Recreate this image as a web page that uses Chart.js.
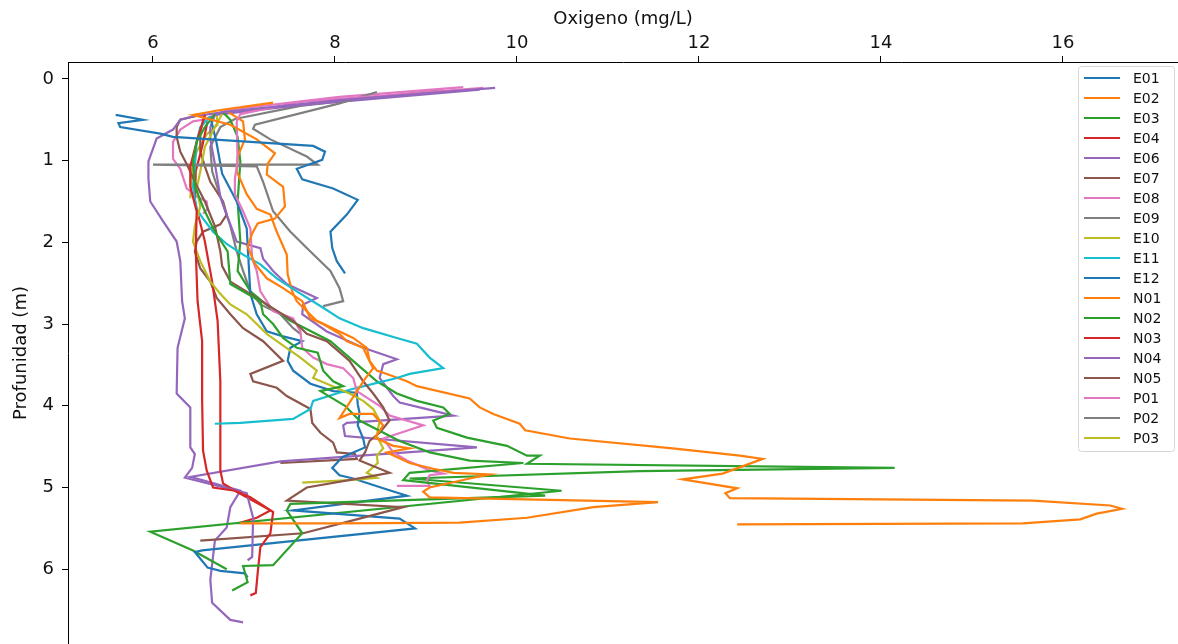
<!DOCTYPE html>
<html>
<head>
<meta charset="utf-8">
<script src="https://cdn.jsdelivr.net/npm/chart.js@4.4.1/dist/chart.umd.min.js"></script>
<style>
  html, body { margin: 0; padding: 0; background: #fff; overflow: hidden; }
  #perfil { display: block; }
</style>
</head>
<body>
<canvas id="perfil" width="1178" height="644"></canvas>
<script>
// estaciones y colores (tab10, en orden)
const stations = ['E01', 'E02', 'E03', 'E04', 'E06', 'E07', 'E08', 'E09', 'E10', 'E11', 'E12',
                  'N01', 'N02', 'N03', 'N04', 'N05', 'P01', 'P02', 'P03'];
const tab10 = ['#1f77b4', '#ff7f0e', '#2ca02c', '#d62728', '#9467bd',
               '#8c564b', '#e377c2', '#7f7f7f', '#bcbd22', '#17becf'];

const xTicks = [6, 8, 10, 12, 14, 16];
const yTicks = [0, 1, 2, 3, 4, 5, 6];

// perfiles: [oxigeno (mg/L), profundidad (m)]
const E01 = [[5.59,0.44],[5.89,0.50],[5.62,0.54],[5.64,0.59],[6.08,0.67],[6.22,0.71],[7.07,0.77],
  [7.76,0.82],[7.89,0.89],[7.86,0.99],[7.58,1.10],[7.64,1.23],[7.98,1.34],[8.25,1.48],[8.13,1.66],
  [7.95,1.87],[7.97,2.07],[8.02,2.23],[8.11,2.38]];
const E02 = [[7.32,0.29],[6.74,0.38],[6.44,0.44],[6.85,0.56],[7.14,0.74],[7.34,0.91],[7.26,1.04],
  [7.25,1.17],[7.43,1.32],[7.45,1.56],[7.34,1.71],[7.15,1.77],[7.09,1.89],[7.04,2.05],[7.12,2.26],
  [7.25,2.44],[7.43,2.56],[7.64,2.72],[7.73,2.93],[7.87,3.00],[8.05,3.12],[8.13,3.21],[8.31,3.29],
  [8.36,3.41],[8.42,3.54],[8.33,3.67],[8.19,3.91],[8.05,4.15],[8.16,4.10],[8.42,4.10],[8.53,4.24],
  [8.44,4.39],[8.64,4.49],[8.82,4.52],[8.57,4.57],[8.82,4.70],[9.08,4.77],[9.30,4.82],[9.70,4.84],
  [9.52,4.88],[9.04,5.00],[8.97,5.05],[9.04,5.12],[11.55,5.18],[10.84,5.24],[10.11,5.37],
  [9.37,5.43],[8.05,5.44],[6.96,5.44]];
const E03 = [[6.68,0.43],[6.57,0.59],[6.48,0.77],[6.44,1.01],[6.46,1.32],[6.57,1.62],[6.68,1.87],
  [6.82,2.11],[6.85,2.51],[7.18,2.72],[7.21,2.88],[7.32,3.00],[7.43,3.17],[7.58,3.29],[7.81,3.35],
  [7.87,3.57],[7.98,3.70],[8.09,3.76],[7.84,3.82],[8.11,4.00],[8.27,4.18],[8.71,4.43],[9.04,4.57],
  [9.48,4.67],[10.07,4.70],[8.82,4.82],[8.75,4.91],[10.31,5.10],[7.51,5.20],[7.47,5.28],
  [7.64,5.56],[7.32,5.95],[6.99,5.96],[7.04,6.16],[6.87,6.26]];
const E04 = [[6.57,0.44],[6.48,0.77],[6.41,1.07],[6.41,1.32],[6.48,1.62],[6.47,2.11],[6.49,2.72],
  [6.54,3.21],[6.54,3.94],[6.55,4.55],[6.59,4.79],[6.66,5.00],[6.90,5.04],[7.07,5.12],[7.32,5.30],
  [7.29,5.56],[7.18,5.73],[7.15,6.05],[7.13,6.29],[7.07,6.32]];
const E06 = [[9.76,0.11],[8.05,0.26],[6.81,0.40],[6.44,0.46],[6.30,0.50],[6.22,0.62],[6.04,0.73],
  [5.95,1.01],[5.95,1.22],[5.97,1.50],[6.11,1.74],[6.26,1.99],[6.30,2.23],[6.32,2.72],[6.35,2.93],
  [6.27,3.29],[6.26,3.85],[6.41,4.02],[6.41,4.51],[6.46,4.59],[6.43,4.76],[6.35,4.88],[7.03,5.07],
  [7.10,5.37],[7.09,5.85],[7.04,5.89]];
const E07 = [[6.52,0.44],[6.30,0.50],[6.26,0.59],[6.26,0.71],[6.30,0.89],[6.37,1.04],[6.46,1.26],
  [6.57,1.50],[6.68,1.80],[6.74,2.11],[6.76,2.29],[6.85,2.48],[7.07,2.63],[7.25,2.76],[7.54,2.96],
  [7.69,3.12],[7.91,3.21],[8.16,3.45],[8.31,3.70],[8.42,3.85],[8.53,4.02],[8.60,4.18],[8.49,4.33],
  [8.38,4.43],[8.33,4.57],[8.27,4.67],[8.60,4.82],[8.31,4.88],[7.69,5.00],[7.47,5.16],[8.75,5.24],
  [8.27,5.38],[7.65,5.56],[6.52,5.65]];
const E08 = [[9.63,0.11],[7.62,0.28],[6.96,0.43],[6.92,0.52],[6.93,1.01],[6.90,1.22],[6.90,1.41],
  [6.99,1.62],[7.07,1.83],[7.09,2.20],[7.14,2.35],[7.18,2.60],[7.32,2.84],[7.54,2.93],[7.62,3.09],
  [7.64,3.29],[7.76,3.41],[7.91,3.49],[8.09,3.54],[8.20,3.66],[8.24,3.82],[8.35,3.90],[8.49,4.00],
  [8.60,4.12],[8.97,4.24],[8.53,4.40],[8.64,4.57],[8.79,4.67],[9.04,4.79],[9.19,4.83],[9.04,4.85],
  [9.01,4.91],[9.04,4.98],[8.68,4.98]];
const E09 = [[8.46,0.16],[8.05,0.30],[7.12,0.56],[7.10,0.61],[7.29,0.74],[7.69,0.95],[7.81,1.05],
  [6.00,1.05],[7.14,1.07],[7.21,1.26],[7.32,1.62],[7.51,1.87],[7.69,2.07],[7.95,2.35],[8.05,2.56],
  [8.09,2.72],[7.87,2.78]];
const E10 = [[6.76,0.43],[6.68,0.59],[6.57,0.83],[6.52,1.13],[6.48,1.34],[6.52,1.56],[6.46,1.80],
  [6.44,1.99],[6.52,2.23],[6.63,2.48],[6.74,2.63],[6.85,2.76],[7.03,2.88],[7.14,3.00],[7.25,3.12],
  [7.40,3.24],[7.62,3.41],[7.80,3.57],[7.76,3.66],[7.91,3.73],[8.16,3.85],[8.31,3.94],[8.42,4.04],
  [8.49,4.18],[8.46,4.37],[8.53,4.52],[8.46,4.61],[8.47,4.70],[8.35,4.82],[8.46,4.88],[8.16,4.91],
  [7.64,4.94]];
const E11 = [[6.63,0.46],[6.52,0.59],[6.48,0.77],[6.46,1.07],[6.44,1.32],[6.48,1.59],[6.55,1.71],
  [6.66,1.87],[6.81,2.02],[6.99,2.15],[7.18,2.27],[7.36,2.44],[7.58,2.60],[7.87,2.80],[8.05,2.93],
  [8.31,3.05],[8.68,3.17],[8.90,3.24],[9.04,3.41],[9.19,3.54],[8.82,3.61],[8.68,3.66],[8.24,3.78],
  [8.02,3.85],[7.76,3.94],[7.73,4.04],[7.54,4.16],[6.96,4.21],[6.68,4.22]];
const E12 = [[6.63,0.46],[6.70,0.79],[6.76,1.16],[6.92,1.50],[7.03,1.83],[7.07,2.63],[7.14,2.88],
  [7.25,3.09],[7.43,3.15],[7.64,3.21],[7.51,3.29],[7.48,3.45],[7.54,3.57],[7.73,3.73],[7.98,3.82],
  [8.24,3.84],[8.25,3.98],[8.27,4.09],[8.25,4.24],[8.31,4.40],[8.33,4.51],[8.08,4.63],[7.97,4.76],
  [8.05,4.85],[8.20,4.89],[8.53,5.01],[8.79,5.10],[7.54,5.28],[8.71,5.38],[8.88,5.50],[6.54,5.77],
  [6.46,5.79],[6.60,5.98],[6.74,6.02],[7.01,6.05],[7.04,6.10]];
const N01 = [[6.82,0.40],[6.99,0.52],[7.01,0.74],[6.93,0.95],[6.92,1.13],[7.03,1.41],[7.14,1.59],
  [7.29,1.66],[7.36,1.87],[7.47,2.15],[7.48,2.39],[7.53,2.60],[7.58,2.72],[7.65,2.80],[7.80,2.96],
  [8.05,3.09],[8.20,3.17],[8.35,3.29],[8.38,3.45],[8.46,3.57],[8.57,3.61],[8.79,3.70],[8.90,3.76],
  [9.48,3.91],[9.59,4.02],[9.74,4.10],[10.03,4.22],[10.09,4.30],[10.58,4.40],[11.71,4.52],
  [12.45,4.61],[12.70,4.65],[12.26,4.83],[11.82,4.90],[12.42,5.01],[12.29,5.07],[12.34,5.13],
  [15.67,5.16],[16.52,5.22],[16.65,5.26],[16.37,5.32],[16.19,5.39],[15.56,5.44],[12.42,5.45]];
const N02 = [[6.76,0.40],[6.85,0.50],[6.93,0.71],[6.96,1.01],[6.93,1.50],[6.96,1.99],[6.93,2.35],
  [7.07,2.60],[7.29,2.80],[7.51,2.96],[7.95,3.21],[8.24,3.49],[8.46,3.70],[8.68,3.85],[8.90,3.94],
  [9.19,4.02],[9.26,4.10],[9.08,4.18],[9.12,4.27],[9.45,4.39],[9.89,4.49],[10.11,4.61],[10.25,4.61],
  [10.11,4.71],[14.15,4.76],[11.35,4.80],[8.82,4.89],[10.49,5.04],[5.97,5.54],[6.44,5.77],[6.81,6.00]];
const N03 = [[6.60,0.52],[6.54,0.83],[6.47,1.13],[6.46,1.50],[6.57,1.99],[6.65,2.48],[6.71,2.96],
  [6.74,3.70],[6.74,4.79],[6.77,4.95],[6.90,5.04],[7.29,5.28],[7.14,5.37],[6.93,5.44]];
const N04 = [[9.59,0.13],[7.62,0.32],[6.68,0.44],[6.63,0.59],[6.63,0.74],[6.68,1.04],[6.74,1.44],
  [6.81,1.66],[6.92,1.99],[7.18,2.07],[7.21,2.20],[7.32,2.35],[7.47,2.51],[7.80,2.68],[7.65,2.76],
  [7.64,2.88],[7.91,3.09],[8.31,3.29],[8.68,3.43],[8.53,3.49],[8.49,3.66],[8.64,3.88],[8.71,3.96],
  [9.01,4.04],[9.30,4.12],[8.13,4.21],[8.09,4.24],[8.11,4.37],[9.56,4.51],[7.40,4.68],[6.41,4.87],
  [6.96,5.04],[6.85,5.24],[6.81,5.49],[6.68,5.65],[6.63,6.13],[6.65,6.41],[6.85,6.62],[6.99,6.65]];
const N05 = [[6.57,0.44],[6.52,0.65],[6.52,0.89],[6.57,1.07],[6.63,1.26],[6.77,1.50],[6.81,1.66],
  [6.74,1.78],[6.55,1.87],[6.48,1.99],[6.46,2.11],[6.52,2.32],[6.63,2.48],[6.70,2.68],[6.85,2.88],
  [6.99,3.05],[7.21,3.21],[7.43,3.45],[7.07,3.61],[7.10,3.70],[7.36,3.78],[7.47,3.88],[7.73,4.04],
  [7.75,4.21],[7.84,4.33],[7.98,4.45],[8.02,4.57],[8.22,4.59],[8.24,4.65],[7.40,4.70]];
const P01 = [[9.41,0.10],[8.05,0.22],[6.81,0.38],[6.55,0.50],[6.44,0.52],[6.30,0.62],[6.22,0.77],
  [6.22,0.98],[6.30,1.10],[6.37,1.34],[6.48,1.44],[6.59,1.50],[6.60,1.59],[6.55,1.65]];
const P02 = [[9.19,0.13],[7.62,0.33],[6.90,0.49],[6.74,0.59],[6.63,0.83],[6.65,1.13],[6.74,1.44],
  [6.85,1.80],[6.92,2.11],[6.99,2.35],[7.07,2.60],[7.18,2.76],[7.40,2.88],[7.54,3.05],[7.62,3.12]];
const P03 = [[6.70,0.44],[6.71,0.56],[6.59,0.68],[6.48,0.89],[6.43,1.10],[6.41,1.46]];

const profiles = [E01, E02, E03, E04, E06, E07, E08, E09, E10, E11, E12,
                  N01, N02, N03, N04, N05, P01, P02, P03];

const datasets = stations.map((name, i) => ({
  label: name,
  data: profiles[i].map(p => ({ x: p[0], y: p[1] })),
  borderColor: tab10[i % 10],
  backgroundColor: tab10[i % 10],
  borderWidth: 2.2,
  showLine: true,
  pointRadius: 0,
  tension: 0,
  fill: false
}));

// leyenda dentro del area, arriba a la derecha
const boxLegend = {
  id: 'boxLegend',
  afterDraw(chart) {
    const ctx = chart.ctx;
    const x0 = 1078, y0 = 66, w = 96, rowH = 20;
    const h = rowH * chart.data.datasets.length + 5;
    ctx.save();
    ctx.beginPath();
    ctx.roundRect(x0 + 0.5, y0 + 0.5, w, h, 3);
    ctx.fillStyle = 'rgba(255,255,255,0.8)';
    ctx.fill();
    ctx.strokeStyle = '#d6d6d6';
    ctx.lineWidth = 1;
    ctx.stroke();
    ctx.font = '14px "DejaVu Sans"';
    ctx.textBaseline = 'middle';
    chart.data.datasets.forEach((ds, i) => {
      const y = y0 + 12 + i * rowH;
      ctx.strokeStyle = ds.borderColor;
      ctx.lineWidth = 2;
      ctx.beginPath();
      ctx.moveTo(x0 + 6, y);
      ctx.lineTo(x0 + 42, y);
      ctx.stroke();
      ctx.fillStyle = '#111';
      ctx.fillText(ds.label, x0 + 55, y + 1);
    });
    ctx.restore();
  }
};

new Chart(document.getElementById('perfil'), {
  type: 'scatter',
  data: { datasets: datasets },
  options: {
    responsive: false,
    animation: false,
    devicePixelRatio: 1,
    layout: { padding: 0 },
    plugins: {
      legend: { display: false },
      tooltip: { enabled: false }
    },
    scales: {
      x: {
        type: 'linear',
        position: 'top',
        min: 5.066,
        max: 17.264,
        afterBuildTicks: s => { s.ticks = xTicks.map(v => ({ value: v })); },
        afterFit: s => { s.height = 62; s.paddingLeft = 0; s.paddingRight = 0; },
        grid: { drawOnChartArea: false, tickLength: 6, tickColor: '#000', tickWidth: 1 },
        border: { color: '#000', width: 1 },
        ticks: { font: { family: 'DejaVu Sans', size: 18 }, color: '#111', padding: 2, maxRotation: 0 },
        title: { display: true, text: 'Oxigeno (mg/L)', font: { family: 'DejaVu Sans', size: 18 },
                 color: '#111', padding: { top: 9, bottom: 0 } }
      },
      y: {
        type: 'linear',
        reverse: true,
        min: -0.207,
        max: 6.915,
        afterBuildTicks: s => { s.ticks = yTicks.map(v => ({ value: v })); },
        afterFit: s => { s.width = 68; s.paddingTop = 0; s.paddingBottom = 0; },
        grid: { drawOnChartArea: false, tickLength: 6, tickColor: '#000', tickWidth: 1 },
        border: { color: '#000', width: 1 },
        ticks: { font: { family: 'DejaVu Sans', size: 18 }, color: '#111', padding: 8 },
        title: { display: true, text: 'Profunidad (m)', font: { family: 'DejaVu Sans', size: 18 },
                 color: '#111', padding: { top: 11, bottom: 0 } }
      }
    }
  },
  plugins: [boxLegend]
});
</script>
</body>
</html>
